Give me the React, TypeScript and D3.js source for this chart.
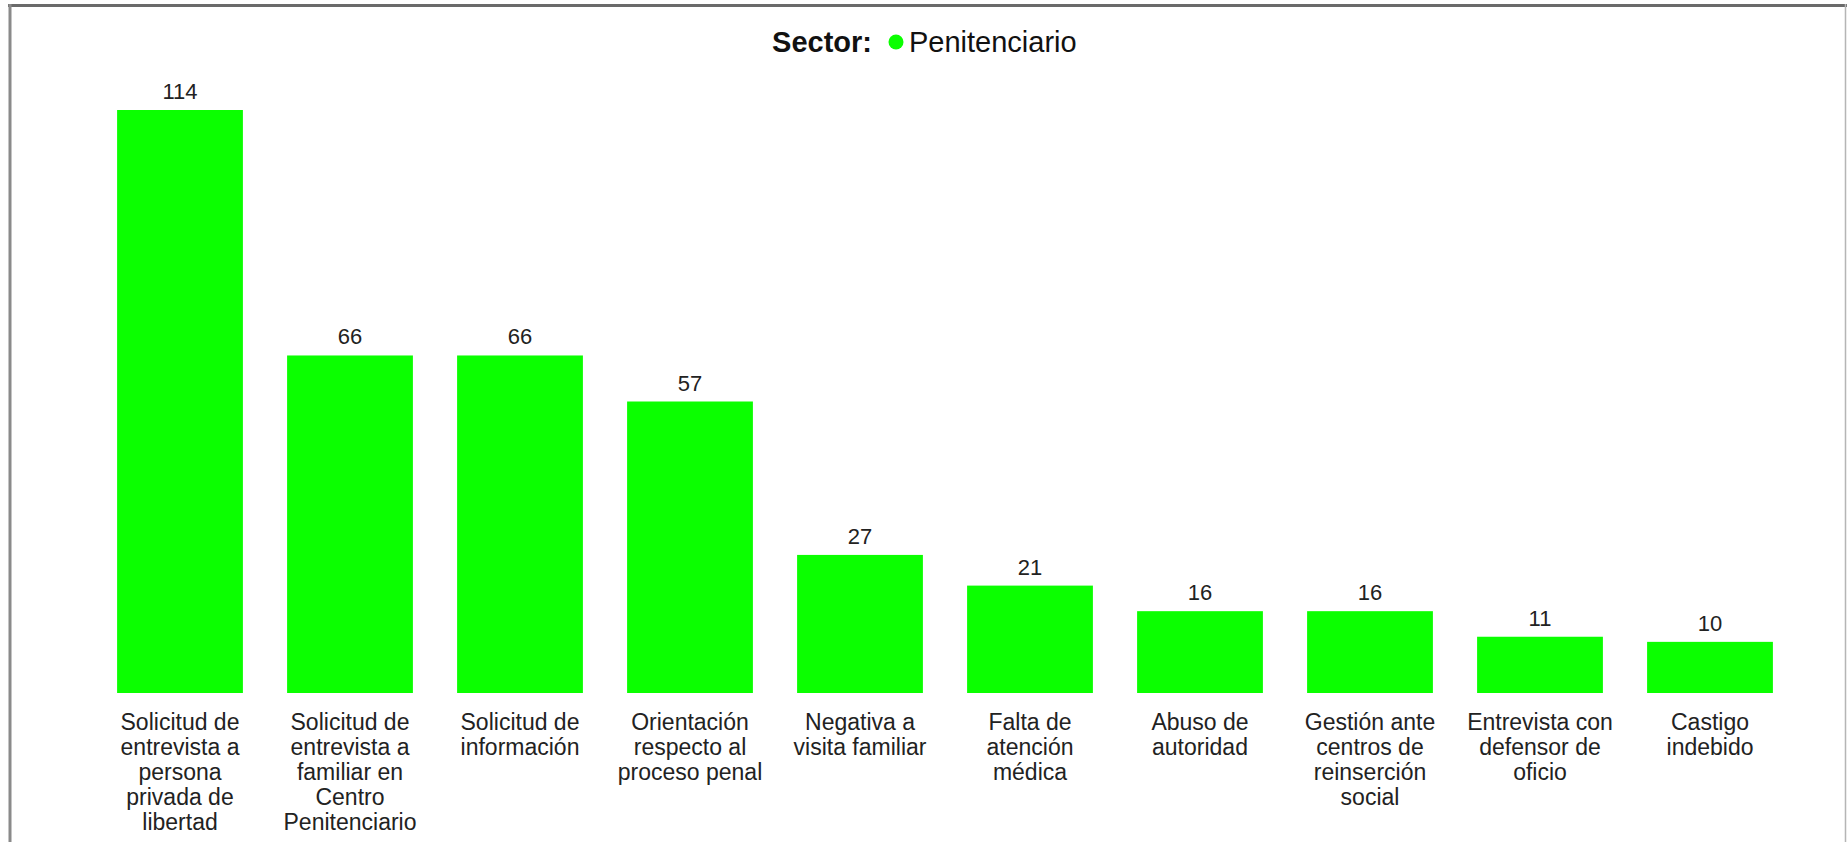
import React, { useEffect } from "react";
import * as d3 from "d3";

// categorías (con saltos de línea como en el gráfico original)
const categories: string[][] = [
  ["Solicitud de", "entrevista a", "persona", "privada de", "libertad"],
  ["Solicitud de", "entrevista a", "familiar en", "Centro", "Penitenciario"],
  ["Solicitud de", "información"],
  ["Orientación", "respecto al", "proceso penal"],
  ["Negativa a", "visita familiar"],
  ["Falta de", "atención", "médica"],
  ["Abuso de", "autoridad"],
  ["Gestión ante", "centros de", "reinserción", "social"],
  ["Entrevista con", "defensor de", "oficio"],
  ["Castigo", "indebido"],
];

const values: number[] = [114, 66, 66, 57, 27, 21, 16, 16, 11, 10];

const legendTitle = "Sector:";
const seriesName = "Penitenciario";

const WIDTH = 1847;
const HEIGHT = 842;
const GREEN = "#0bff00";
const FONT = "'Liberation Sans', Arial, sans-serif";

const App: React.FC = () => {
  useEffect(() => {
    document.body.style.margin = "0";
  }, []);

  const keys = categories.map((_, i) => String(i));

  const x = d3
    .scaleBand<string>()
    .domain(keys)
    .range([95, 1795])
    .paddingInner(0.26)
    .paddingOuter(0.13);

  const y = d3
    .scaleLinear()
    .domain([0, d3.max(values) as number])
    .range([693, 110]);

  return (
    <svg width={WIDTH} height={HEIGHT} style={{ display: "block", background: "#fff" }}>
      {/* marco */}
      <line x1={8} x2={WIDTH} y1={5.5} y2={5.5} stroke="#6a6a6a" strokeWidth={3} />
      <line x1={10} x2={10} y1={4} y2={HEIGHT} stroke="#8a8a8a" strokeWidth={3} />
      <line x1={1845.5} x2={1845.5} y1={4} y2={HEIGHT} stroke="#b5b5b5" strokeWidth={1.5} />

      {/* leyenda */}
      <g fontFamily={FONT} fontSize={29} fill="#111">
        <text x={872} y={52} textAnchor="end" fontWeight="bold">
          {legendTitle}
        </text>
        <circle cx={896} cy={42} r={7.5} fill={GREEN} />
        <text x={909} y={52}>
          {seriesName}
        </text>
      </g>

      {/* barras */}
      {values.map((v, i) => (
        <rect
          key={"b" + i}
          x={x(keys[i])}
          y={y(v)}
          width={x.bandwidth()}
          height={y(0) - y(v)}
          fill={GREEN}
        />
      ))}

      {/* valores */}
      {values.map((v, i) => (
        <text
          key={"v" + i}
          x={(x(keys[i]) as number) + x.bandwidth() / 2}
          y={y(v) - 11}
          textAnchor="middle"
          fontFamily={FONT}
          fontSize={22}
          fill="#222"
        >
          {v}
        </text>
      ))}

      {/* etiquetas del eje */}
      {categories.map((lines, i) => (
        <text
          key={"c" + i}
          x={(x(keys[i]) as number) + x.bandwidth() / 2}
          y={y(0) + 37}
          textAnchor="middle"
          fontFamily={FONT}
          fontSize={23}
          fill="#222"
        >
          {lines.map((l, j) => (
            <tspan key={j} x={(x(keys[i]) as number) + x.bandwidth() / 2} dy={j === 0 ? 0 : 25}>
              {l}
            </tspan>
          ))}
        </text>
      ))}
    </svg>
  );
};

export default App;
